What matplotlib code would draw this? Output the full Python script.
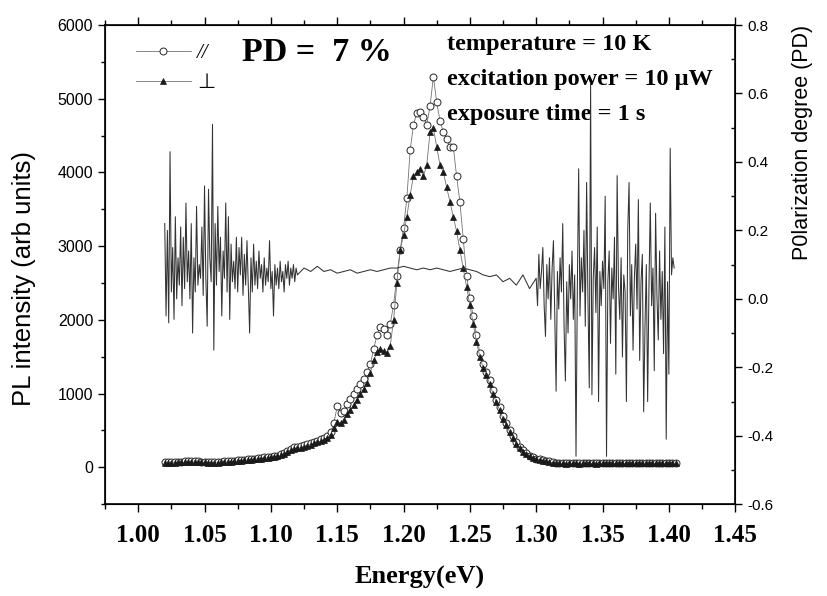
import numpy as np
import matplotlib
matplotlib.use("Agg")
import matplotlib.pyplot as plt
from matplotlib.ticker import MultipleLocator, FormatStrFormatter

# PL spectra, sampled every 2.5 meV starting at 1.020 eV
e_start, e_step = 1.020, 0.0025
par_counts = [
    70, 72, 70, 74, 76, 78, 80, 82, 84, 82, 80, 78, 76, 74, 72, 70, 72, 76, 80, 84,
    88, 92, 96, 100, 104, 108, 112, 118, 124, 130, 136, 140, 146,
    150, 160, 175, 195, 225, 255, 270, 280, 285, 300, 315, 330, 345, 360, 380, 400,
    430, 480, 600, 830, 740, 760, 860, 930, 990, 1060, 1130, 1200, 1290, 1400, 1600,
    1800, 1900, 1870, 1800, 1950, 2200, 2600, 2950, 3250, 3650, 4300, 4650, 4800,
    4820, 4750, 4650, 4900, 5300, 4950, 4700, 4550, 4450, 4350, 4350, 3950, 3600,
    3100, 2600, 2300, 2050, 1800, 1550, 1400, 1300, 1180, 1050, 920, 820, 700, 600,
    510, 420, 340, 280, 230, 190, 160, 135, 120, 110, 100, 90, 80, 70, 65,
    62, 60, 58, 60, 62, 58, 56, 60, 62, 60, 58, 56, 60, 62, 64, 60, 58, 60, 62, 60,
    58, 62, 64, 60, 58, 60, 62, 64, 62, 60, 58, 60, 62, 64, 62, 60,
]
perp_counts = [
    60, 62, 60, 64, 66, 68, 70, 72, 74, 72, 70, 68, 66, 64, 62, 60, 62, 66, 70, 74,
    78, 82, 86, 90, 94, 98, 102, 108, 114, 120, 126, 130, 136,
    140, 150, 165, 185, 210, 240, 255, 262, 268, 280, 295, 310, 325, 340, 355, 375,
    400, 440, 530, 620, 600, 640, 720, 780, 850, 920, 990, 1060, 1150, 1280, 1450,
    1560, 1600, 1580, 1550, 1650, 2000, 2500, 2950, 3150, 3400, 3700, 3950, 4000,
    4050, 3950, 4100, 4550, 4600, 4350, 4100, 4000, 3800, 3600, 3400, 3200, 2950,
    2700, 2450, 2200, 1950, 1700, 1500, 1350, 1250, 1130, 1000, 880, 780, 660, 570,
    480, 400, 320, 265, 215, 180, 150, 125, 110, 100, 90, 80, 72, 65, 60,
    55, 54, 52, 55, 56, 53, 52, 55, 57, 55, 53, 52, 55, 57, 58, 55, 53, 55, 57, 55,
    53, 56, 58, 55, 53, 55, 57, 58, 56, 55, 53, 55, 57, 58, 56, 55,
]

# polarization degree: noisy low-energy tail (1 meV steps from 1.020 eV)
pd_left = [
    0.22, -0.05, 0.20, -0.07, 0.43, 0.02, 0.15, -0.06, 0.24, 0.00,
    0.12, 0.04, 0.21, -0.02, 0.18, 0.03, 0.28, 0.05, 0.14, 0.00,
    0.22, -0.10, 0.12, 0.02, 0.27, 0.04, 0.10, 0.06, 0.21, 0.01,
    0.33, 0.06, -0.08, 0.32, 0.12, 0.05, 0.51, -0.15, 0.22, 0.04,
    0.27, 0.08, 0.18, -0.05, 0.14, 0.06, 0.28, 0.02, 0.24, -0.06,
    0.16, 0.05, 0.11, 0.03, 0.18, 0.02, 0.15, 0.07, 0.18, 0.01,
    0.13, 0.04, 0.17, 0.03, -0.10, 0.12, 0.02, 0.16, 0.04, 0.11,
    0.03, 0.14, 0.06, 0.10, 0.02, 0.12, 0.04, 0.09, 0.05, 0.17,
    0.03, 0.08, -0.05, 0.10, 0.04, 0.09, 0.03, 0.11, 0.05, 0.08,
    0.02, 0.10, 0.06, 0.11, 0.04, 0.09, 0.06, 0.10, 0.05, 0.09,
]
# smooth part under the peak (5 meV steps from 1.120 eV)
pd_mid = [
    0.07, 0.09, 0.08, 0.095, 0.08, 0.085, 0.075, 0.08, 0.085, 0.075,
    0.08, 0.085, 0.08, 0.085, 0.09, 0.09, 0.095, 0.09, 0.085, 0.09,
    0.085, 0.09, 0.085, 0.08, 0.085, 0.09, 0.085, 0.08, 0.07, 0.065,
    0.07, 0.05, 0.06, 0.04, 0.07, 0.03,
]
# noisy high-energy tail (1 meV steps from 1.300 eV)
pd_right = [
    0.06, -0.02, 0.13, 0.03, 0.08, 0.15, -0.02, -0.11, 0.10, 0.00,
    0.12, -0.06, 0.09, 0.17, -0.05, -0.27, 0.08, -0.03, 0.12, 0.02,
    0.22, -0.08, -0.24, 0.05, -0.10, 0.10, 0.00, 0.14, -0.06, 0.07,
    -0.46, 0.03, 0.38, -0.05, 0.12, 0.02, 0.20, -0.08, 0.34, 0.00,
    -0.26, 0.63, -0.28, 0.06, 0.15, -0.04, 0.21, -0.30, 0.08, -0.02,
    0.11, 0.03, 0.30, -0.46, 0.05, 0.14, -0.13, 0.09, 0.00, 0.18,
    -0.22, 0.36, 0.04, -0.06, 0.12, -0.17, 0.07, 0.02, -0.30, 0.20,
    0.34, -0.05, 0.10, -0.15, 0.06, 0.16, -0.03, 0.29, -0.18, 0.05,
    0.13, -0.33, -0.08, 0.10, -0.30, 0.04, 0.28, -0.02, 0.09, -0.21,
    0.25, 0.01, -0.12, 0.14, -0.06, 0.08, -0.16, 0.21, -0.41, 0.05,
    -0.22, 0.44, 0.07, 0.12, 0.09,
]

energy = e_start + e_step * np.arange(len(par_counts))
pd_e = np.concatenate([
    1.020 + 0.001 * np.arange(len(pd_left)),
    1.120 + 0.005 * np.arange(len(pd_mid)),
    1.300 + 0.001 * np.arange(len(pd_right)),
])
pd_vals = np.array(pd_left + pd_mid + pd_right)

serif = "Liberation Serif"
sans = "Liberation Sans"

fig = plt.figure(figsize=(8.27, 5.96), dpi=100)
ax = fig.add_axes([0.127, 0.154, 0.762, 0.804])

ax.plot(energy, par_counts, color="0.45", lw=0.6, marker="o", ms=5,
        mfc="white", mec="0.15", mew=0.7, label="//")
ax.plot(energy, perp_counts, color="0.45", lw=0.6, marker="^", ms=4.8,
        mfc="0.1", mec="0.1", mew=0.5, label="\u22a5")

ax.set_xlim(0.975, 1.45)
ax.set_ylim(-500, 6000)
ax.xaxis.set_major_locator(MultipleLocator(0.05))
ax.xaxis.set_minor_locator(MultipleLocator(0.025))
ax.xaxis.set_major_formatter(FormatStrFormatter("%.2f"))
ax.yaxis.set_major_locator(MultipleLocator(1000))
ax.yaxis.set_minor_locator(MultipleLocator(500))
ax.tick_params(axis="x", which="both", direction="out", top=True)
ax.tick_params(axis="x", which="major", length=6, width=1, pad=8)
ax.tick_params(axis="x", which="minor", length=3.5, width=1)
ax.tick_params(axis="y", which="major", direction="out", length=5, width=1, labelsize=11.5)
ax.tick_params(axis="y", which="minor", direction="out", length=3, width=1)
for lab in ax.get_xticklabels():
    lab.set_fontfamily(serif)
    lab.set_fontweight("bold")
    lab.set_fontsize(18)
for lab in ax.get_yticklabels():
    lab.set_fontfamily(sans)
for sp in ax.spines.values():
    sp.set_linewidth(1.2)

ax.set_xlabel("Energy(eV)", fontfamily=serif, fontweight="bold", fontsize=19, labelpad=14)
ax.set_ylabel("PL intensity (arb units)", fontfamily=sans, fontsize=18.5)
ax.yaxis.set_label_coords(-0.11, 0.47)

ax2 = ax.twinx()
ax2.plot(pd_e, pd_vals, color="0.2", lw=0.75)
ax2.set_ylim(-0.6, 0.8)
ax2.yaxis.set_major_locator(MultipleLocator(0.2))
ax2.yaxis.set_minor_locator(MultipleLocator(0.1))
ax2.yaxis.set_major_formatter(FormatStrFormatter("%.1f"))
ax2.tick_params(axis="y", which="major", direction="out", length=5, width=1, labelsize=11)
ax2.tick_params(axis="y", which="minor", direction="in", length=3, width=1)
for lab in ax2.get_yticklabels():
    lab.set_fontfamily(sans)
ax2.set_ylabel("P0larization degree (PD)", fontfamily=sans, fontsize=15.5)
ax2.yaxis.set_label_coords(1.09, 0.755)

leg = ax.legend(loc="upper left", bbox_to_anchor=(0.02, 1.0), frameon=False,
                handlelength=2.6, labelspacing=0.5, handletextpad=0.3,
                prop={"family": [serif, "DejaVu Sans"], "size": 15, "style": "italic"})

ax.text(0.218, 0.924, "PD =  7 %", transform=ax.transAxes, fontfamily=serif,
        fontweight="bold", fontsize=24.5)
info = ["temperature = 10 K", "excitation power = 10 \u03bcW", "exposure time = 1 s"]
for i, line in enumerate(info):
    ax.text(0.543, 0.96 - i * 0.073, line, transform=ax.transAxes,
            fontfamily=serif, fontweight="bold", fontsize=17.5, va="center")

fig.savefig("out.png", dpi=100)
